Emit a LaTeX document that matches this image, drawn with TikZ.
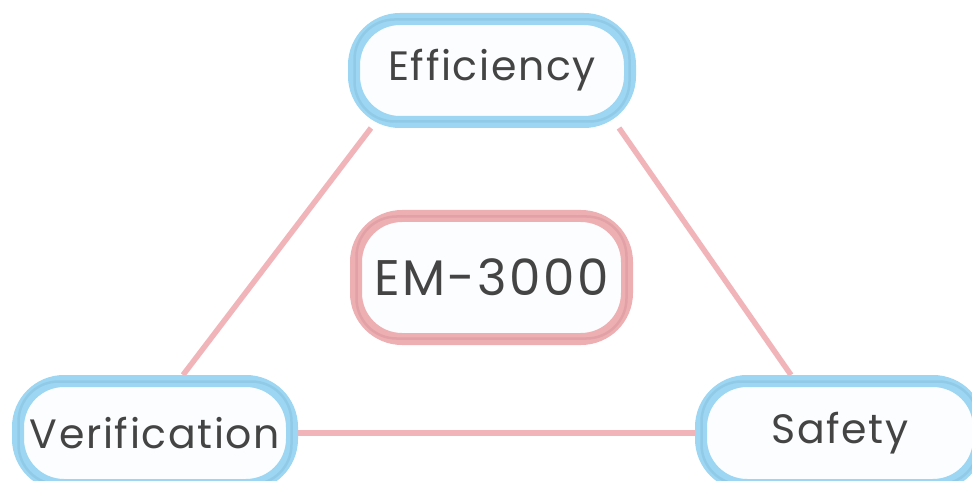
\documentclass[tikz,border=0pt]{standalone}
\usepackage{fontspec}
\setmainfont{Poppins}
\usetikzlibrary{backgrounds}
\definecolor{boxblue}{HTML}{9DD6F2}
\definecolor{boxblueshade}{HTML}{7FB8D6}
\definecolor{boxpink}{HTML}{EEAFB3}
\definecolor{boxpinkshade}{HTML}{CF8E93}
\definecolor{linkpink}{HTML}{F1B5B9}
\definecolor{fillwhite}{HTML}{FBFDFE}
\definecolor{txt}{HTML}{444444}
\tikzset{
  pill/.style={rectangle, rounded corners=46pt, line width=12pt, fill=fillwhite,
    text=txt, inner sep=0pt},
  bluepill/.style={pill, draw=boxblue,
    font=\fontsize{41}{44}\selectfont\addfontfeatures{LetterSpace=4}},
  pinkpill/.style={pill, draw=boxpink,
    font=\fontsize{50}{54}\selectfont\addfontfeatures{LetterSpace=5}},
  innershade/.style={rounded corners=40pt, line width=2.5pt, opacity=0.4},
  link/.style={draw=linkpink, line width=5.5pt},
}
\begin{document}
\begin{tikzpicture}[x=1pt,y=-1pt]
\useasboundingbox (0,0) rectangle (972,481);
\node[bluepill, minimum width=276pt, minimum height=103pt] (eff) at (492,70.5) {Efficiency};
\node[pinkpill, minimum width=271pt, minimum height=123pt] (em) at (491.5,277.5) {EM-3000};
\node[bluepill, minimum width=274pt, minimum height=104pt] (ver) at (155,433) {Verification};
\node[bluepill, minimum width=278pt, minimum height=104pt] (saf) at (840,433) {Safety};
\foreach \n/\c in {eff/boxblueshade, em/boxpinkshade, ver/boxblueshade, saf/boxblueshade}{
  \draw[innershade, draw=\c] ([shift={(6.5pt,-6.5pt)}]\n.north west) rectangle ([shift={(-6.5pt,6.5pt)}]\n.south east);
}
\begin{scope}[on background layer]
  \draw[link] ([xshift=23pt]eff.south west) -- ([xshift=171pt]ver.north west);
  \draw[link] ([xshift=-17pt]eff.south east) -- ([xshift=96pt]saf.north west);
  \draw[link] (ver.east) -- (saf.west);
\end{scope}
\end{tikzpicture}
\end{document}
